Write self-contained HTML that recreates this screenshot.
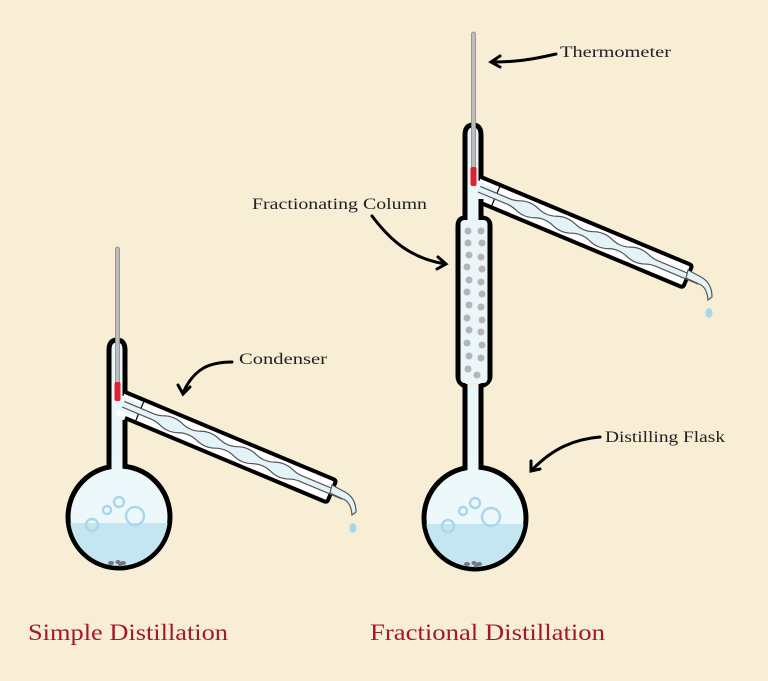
<!DOCTYPE html>
<html><head><style>
html,body{margin:0;padding:0;background:#f7eed5;}
svg{display:block;}
text{font-family:"Liberation Serif",serif;}
</style></head><body>
<svg width="768" height="681" viewBox="0 0 768 681" xmlns="http://www.w3.org/2000/svg">
<rect width="768" height="681" fill="#f7eed5"/>
<defs>
<g id="top">
  <!-- neck top -->
  <path d="M109,420 L109,350 Q109,340 117,340 Q125,340 125,350 L125,420 Z" fill="#eaf6f9"/>
  <path d="M109,420 L109,350 Q109,340 117,340 Q125,340 125,350 L125,396" fill="none" stroke="#000" stroke-width="5"/>
  <!-- condenser -->
  <g transform="translate(125,405) rotate(22.7)">
    <path d="M-5,-12 L224,-12 L224,12 L5,12 L-5,12 Z" fill="#fff"/>
    <rect x="-6" y="-7" width="22" height="14" fill="#eaf6f9"/>
    <path d="M-5,-12 L221,-12 Q224,-12 224,-9 L224,9 Q224,12 221,12 L5,12" fill="none" stroke="#000" stroke-width="4"/>
    <line x1="16" y1="-10" x2="16" y2="10" stroke="#000" stroke-width="1.2"/>
    <path d="M-2,-3 L30,-3 C40,-3 40,-7 50,-7 C60,-7 60,-3 70,-3 C80,-3 80,-7 90,-7 C100,-7 100,-3 110,-3 C120,-3 120,-7 130,-7 C140,-7 140,-3 150,-3 C160,-3 160,-7 170,-7 C180,-7 180,-3 190,-3 L236,-3 L236,3 L190,3 C180,3 180,7 170,7 C160,7 160,3 150,3 C140,3 140,7 130,7 C120,7 120,3 110,3 C100,3 100,7 90,7 C80,7 80,3 70,3 C60,3 60,7 50,7 C40,7 40,3 30,3 L-2,3" fill="#e3f3f8" stroke="#555" stroke-width="1.2"/>
  </g>
  <path d="M332,485 L345,492 Q356,498 356,512 L352,515 Q351,502 343,499 L330,493 Z" fill="#e3f3f8" stroke="#555" stroke-width="1.2"/>
  <ellipse cx="353" cy="528" rx="3.5" ry="5" fill="#a9d6ea"/>
  <rect x="115.5" y="247" width="4" height="140" rx="2" fill="#bdbdbd" stroke="#888" stroke-width="0.8"/>
  <rect x="114.5" y="382" width="6" height="19" rx="2" fill="#e0202a"/>
</g>
<g id="flask">
  <circle cx="0" cy="0" r="51" fill="#edf8fb" stroke="#000" stroke-width="5"/>
  <clipPath id="cl"><circle cx="0" cy="0" r="49"/></clipPath>
  <rect x="-55" y="6" width="110" height="60" fill="#c3e6f0" clip-path="url(#cl)"/>
  <circle cx="-27" cy="8" r="6" fill="none" stroke="#a9d8ea" stroke-width="2.5"/>
  <circle cx="-12" cy="-7" r="4" fill="none" stroke="#a9d8ea" stroke-width="2.5"/>
  <circle cx="0" cy="-15" r="5" fill="none" stroke="#a9d8ea" stroke-width="2.5"/>
  <circle cx="16" cy="-1" r="9" fill="none" stroke="#a9d8ea" stroke-width="2.5"/>
  <ellipse cx="-8" cy="46" rx="3" ry="2" fill="#777"/><ellipse cx="-1" cy="45" rx="2.5" ry="2" fill="#777"/><ellipse cx="4" cy="46" rx="3" ry="2" fill="#777"/><ellipse cx="1" cy="48" rx="2" ry="1.5" fill="#777"/>
</g>
</defs>

<!-- Simple -->
<rect x="109" y="395" width="16" height="75" fill="#eaf6f9"/>
<line x1="109" y1="395" x2="109" y2="468" stroke="#000" stroke-width="5"/>
<line x1="125" y1="414" x2="125" y2="468" stroke="#000" stroke-width="5"/>
<use href="#flask" transform="translate(119,517)"/>
<rect x="111.5" y="455" width="11" height="20" fill="#edf8fb"/>
<use href="#top"/>

<!-- Fractional -->
<rect x="465" y="385" width="16" height="85" fill="#eaf6f9"/>
<line x1="465" y1="385" x2="465" y2="468" stroke="#000" stroke-width="5"/>
<line x1="481" y1="385" x2="481" y2="468" stroke="#000" stroke-width="5"/>
<use href="#flask" transform="translate(475,518)"/>
<rect x="467.5" y="455" width="11" height="20" fill="#edf8fb"/>
<use href="#top" transform="translate(356,-215)"/>
<rect x="467.5" y="196" width="11" height="30" fill="#eaf6f9"/>
<path d="M465,190 L465,218 Q458,218 458,226 L458,376 Q458,383 465,386 L465,392 M481,199 L481,218 Q490,218 490,226 L490,376 Q490,383 481,386 L481,392" fill="none" stroke="#000" stroke-width="5"/>
<rect x="460.5" y="220" width="27" height="163" rx="4" fill="#eaf6f9"/>
<g fill="#b5b5b5">
<circle cx="468" cy="231" r="3.5"/><circle cx="481" cy="231" r="3.5"/><circle cx="468" cy="243" r="3.5"/><circle cx="482" cy="243" r="3.5"/>
<circle cx="469" cy="255" r="3.5"/><circle cx="481" cy="257" r="3.5"/><circle cx="467" cy="267" r="3.5"/><circle cx="482" cy="269" r="3.5"/>
<circle cx="469" cy="280" r="3.5"/><circle cx="481" cy="282" r="3.5"/><circle cx="467" cy="292" r="3.5"/><circle cx="482" cy="294" r="3.5"/>
<circle cx="469" cy="305" r="3.5"/><circle cx="481" cy="307" r="3.5"/><circle cx="467" cy="318" r="3.5"/><circle cx="482" cy="320" r="3.5"/>
<circle cx="469" cy="330" r="3.5"/><circle cx="481" cy="332" r="3.5"/><circle cx="467" cy="343" r="3.5"/><circle cx="482" cy="345" r="3.5"/>
<circle cx="469" cy="356" r="3.5"/><circle cx="481" cy="358" r="3.5"/><circle cx="468" cy="369" r="3.5"/><circle cx="477" cy="375" r="3.5"/>
</g>

<!-- labels & arrows -->
<g fill="none" stroke="#000" stroke-width="3" stroke-linecap="round">
<path d="M556,54 C530,60 515,62 492,62"/><path d="M500,56 L491,62 L500,67"/>
<path d="M372,216 C390,240 410,258 445,264"/><path d="M438,257 L446,264 L437,269"/>
<path d="M232,362 C210,362 194,368 183,393"/><path d="M178,385 L183,394 L190,387"/>
<path d="M600,437 C575,439 553,448 532,470"/><path d="M531,461 L531,471 L540,469"/>
</g>
<g font-size="16" fill="#222" lengthAdjust="spacingAndGlyphs">
<text x="560" y="57" textLength="111" lengthAdjust="spacingAndGlyphs">Thermometer</text>
<text x="252" y="209" textLength="175" lengthAdjust="spacingAndGlyphs">Fractionating Column</text>
<text x="239" y="364" textLength="88" lengthAdjust="spacingAndGlyphs">Condenser</text>
<text x="605" y="442" textLength="120" lengthAdjust="spacingAndGlyphs">Distilling Flask</text>
</g>
<g font-size="23" fill="#a3182c">
<text x="28" y="640" textLength="200" lengthAdjust="spacingAndGlyphs">Simple Distillation</text>
<text x="370" y="640" textLength="235" lengthAdjust="spacingAndGlyphs">Fractional Distillation</text>
</g>
</svg>
</body></html>
